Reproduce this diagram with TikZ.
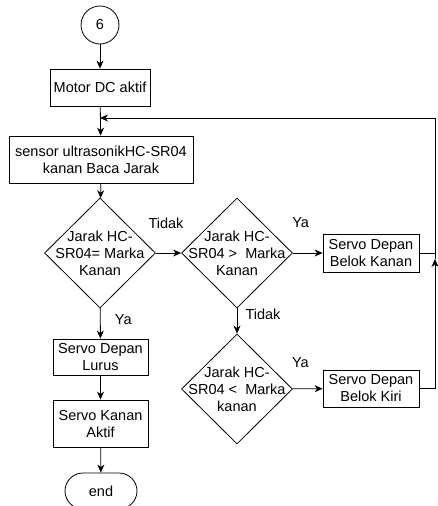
\documentclass[tikz,border=0pt]{standalone}
\usepackage{fontspec}
\setmainfont{Liberation Sans}
\usetikzlibrary{shapes.geometric}
\usetikzlibrary{arrows.meta}

\begin{document}
\begin{tikzpicture}[->,>={Stealth[length=8pt,width=7pt,inset=2.5pt]},x=1pt,y=-1pt,line width=0.8pt,
  every node/.style={font=\fontsize{14.5}{17}\selectfont},
  proc node/.style={rectangle,draw,align=center,inner sep=0pt},
  dec node/.style={diamond,draw,align=center,inner sep=-9pt,
  minimum width=111pt,minimum height=110pt},
  term node/.style={rectangle,draw,rounded corners=18pt,
  minimum width=72pt,minimum height=36pt}]
  \useasboundingbox (0,0) rectangle (438,506);
  \node[circle,draw,minimum size=38pt,inner sep=0pt] (C6) at (100,25) {6};
  \node[proc node,minimum width=100pt,minimum height=37pt] (MDC) at (100,87.5) {Motor DC aktif};
  \node[proc node,minimum width=184pt,minimum height=47pt] (US) at (101,159.5) {sensor ultrasonikHC-SR04\\kanan Baca Jarak};
  \node[dec node] (D1) at (100,253) {Jarak HC-\\SR04= Marka\\Kanan};
  \node[dec node] (D2) at (237,253) {Jarak HC-\\SR04 >~ Marka\\Kanan};
  \node[dec node] (D3) at (237,389) {Jarak HC-\\SR04 <~ Marka\\kanan};
  \node[proc node,minimum width=96pt,minimum height=38pt] (BKa) at (371,253) {Servo Depan\\Belok Kanan};
  \node[proc node,minimum width=96pt,minimum height=37pt] (BKi) at (371,388.5) {Servo Depan\\Belok Kiri};
  \node[proc node,minimum width=95pt,minimum height=36pt] (SDL) at (100.5,357) {Servo Depan\\Lurus};
  \node[proc node,minimum width=95pt,minimum height=47pt] (SKA) at (100.5,423.5) {Servo Kanan\\Aktif};
  \node[term node] (END) at (101,491) {end};
  \coordinate (back) at (100,118);
  \coordinate (J) at (435,259);

  \path
    (C6) edge (MDC)
    (MDC) edge (US)
    (US) edge (D1)
    (D1) edge node[pos=0.4,yshift=30pt] {Tidak} (D2)
    (D1) edge node[pos=0.39,xshift=23pt] {Ya} (SDL)
    (SDL) edge (SKA)
    (SKA) edge (END)
    (D2) edge node[pos=0.26,yshift=30pt] {Ya} (BKa)
    (D2) edge node[pos=0.24,xshift=26pt] {Tidak} (D3)
    (D3) edge node[pos=0.26,yshift=26pt] {Ya} (BKi);
  % kembali ke sensor
  \draw[-] (BKa.east) -- (BKa.east -| J);
  \draw (BKi.east) -| (J);
  \draw (J) |- (back);
\end{tikzpicture}
\end{document}
